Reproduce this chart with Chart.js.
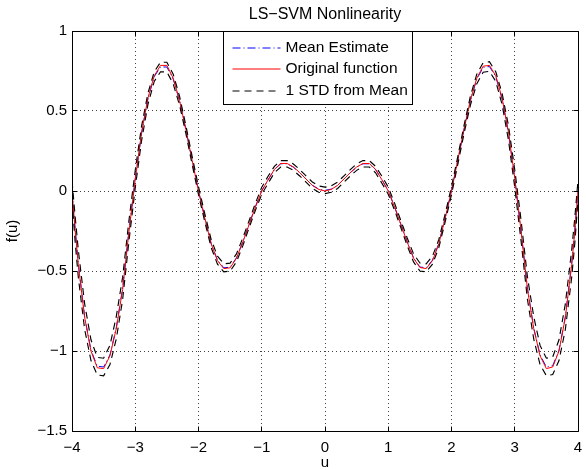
<!DOCTYPE html>
<html>
<head>
<meta charset="utf-8">
<script src="https://cdn.jsdelivr.net/npm/chart.js@4.4.0/dist/chart.umd.min.js"></script>
<style>
  body { margin: 0; background: #fff; }
  #wrap { width: 586px; height: 470px; }
</style>
</head>
<body>
<div id="wrap"><canvas id="nl-chart" width="586" height="470"></canvas></div>
<script>
// values
const uVals = [
  -4, -3.95, -3.9, -3.8, -3.7, -3.6, -3.5, -3.4, -3.3, -3.2,
  -3.1, -3, -2.9, -2.8, -2.7, -2.6, -2.5, -2.4, -2.3, -2.2,
  -2.1, -2, -1.9, -1.8, -1.7, -1.6, -1.5, -1.4, -1.3, -1.2,
  -1.1, -1, -0.9, -0.8, -0.7, -0.6, -0.5, -0.4, -0.3, -0.2,
  -0.1, 0, 0.1, 0.2, 0.3, 0.4, 0.5, 0.6, 0.7, 0.8,
  0.9, 1, 1.1, 1.2, 1.3, 1.4, 1.5, 1.6, 1.7, 1.8,
  1.9, 2, 2.1, 2.2, 2.3, 2.4, 2.5, 2.6, 2.7, 2.8,
  2.9, 3, 3.1, 3.2, 3.3, 3.4, 3.5, 3.6, 3.7, 3.8,
  3.9, 3.95, 4
];

const originalFn = [
  0.000, -0.245, -0.460, -0.790, -1.000, -1.105, -1.110, -1.030, -0.860, -0.615,
  -0.255, 0.075, 0.365, 0.580, 0.720, 0.785, 0.785, 0.705, 0.565, 0.385,
  0.190, 0.000, -0.170, -0.330, -0.435, -0.485, -0.480, -0.420, -0.320, -0.210,
  -0.100, 0.000, 0.070, 0.135, 0.172, 0.172, 0.150, 0.115, 0.075, 0.035,
  0.010, 0.000, 0.010, 0.035, 0.075, 0.115, 0.150, 0.172, 0.172, 0.135,
  0.070, 0.000, -0.100, -0.210, -0.320, -0.420, -0.478, -0.485, -0.435, -0.330,
  -0.170, 0.000, 0.195, 0.390, 0.570, 0.705, 0.780, 0.785, 0.720, 0.580,
  0.370, 0.080, -0.250, -0.610, -0.860, -1.030, -1.110, -1.100, -1.000, -0.790,
  -0.460, -0.250, 0.000
];

const meanEst = [
  0.005, -0.240, -0.455, -0.785, -0.995, -1.095, -1.100, -1.025, -0.855, -0.610,
  -0.250, 0.075, 0.360, 0.575, 0.715, 0.775, 0.775, 0.700, 0.565, 0.385,
  0.190, 0.002, -0.168, -0.328, -0.432, -0.480, -0.476, -0.418, -0.318, -0.208,
  -0.098, 0.002, 0.070, 0.134, 0.170, 0.170, 0.149, 0.114, 0.075, 0.036,
  0.012, 0.004, 0.012, 0.036, 0.075, 0.114, 0.149, 0.170, 0.170, 0.134,
  0.070, 0.002, -0.098, -0.208, -0.318, -0.418, -0.475, -0.480, -0.432, -0.328,
  -0.168, 0.002, 0.192, 0.388, 0.567, 0.700, 0.772, 0.778, 0.715, 0.575,
  0.365, 0.078, -0.248, -0.605, -0.855, -1.025, -1.100, -1.092, -0.995, -0.785,
  -0.455, -0.245, 0.005
];

const stdDev = [
  0.060, 0.080, 0.085, 0.080, 0.065, 0.055, 0.055, 0.060, 0.070, 0.070,
  0.065, 0.055, 0.045, 0.035, 0.030, 0.030, 0.030, 0.030, 0.028, 0.025,
  0.025, 0.025, 0.025, 0.025, 0.025, 0.025, 0.025, 0.025, 0.024, 0.022,
  0.022, 0.022, 0.022, 0.020, 0.020, 0.020, 0.020, 0.020, 0.020, 0.020,
  0.020, 0.020, 0.020, 0.020, 0.020, 0.020, 0.020, 0.020, 0.020, 0.020,
  0.022, 0.022, 0.022, 0.022, 0.024, 0.025, 0.025, 0.025, 0.025, 0.025,
  0.025, 0.025, 0.025, 0.025, 0.028, 0.030, 0.030, 0.030, 0.030, 0.035,
  0.045, 0.055, 0.065, 0.070, 0.070, 0.060, 0.055, 0.055, 0.065, 0.080,
  0.085, 0.080, 0.060
];

const xTicks = [-4, -3, -2, -1, 0, 1, 2, 3, 4];
const yTicks = [-1.5, -1, -0.5, 0, 0.5, 1];
const seriesNames = ["Mean Estimate", "Original function", "1 STD from Mean"];
const chartTitle = "LS\u2212SVM Nonlinearity";

const FONT = "'Liberation Sans', Arial, Helvetica, sans-serif";
const fmt = v => String(v).replace('-', '\u2212');
const pts = ys => uVals.map((u, i) => ({ x: u, y: ys[i] }));

const upperStd = meanEst.map((m, i) => m + stdDev[i]);
const lowerStd = meanEst.map((m, i) => m - stdDev[i]);

const dashDot = [8, 3, 1, 3];
const dashed = [7, 5];

function align(px) {
  return Math.round(px - 0.5) + 0.5;
}

// axes box with inward ticks, title and legend (MATLAB style)
const matlabFrame = {
  id: 'matlabFrame',
  afterDatasetsDraw(chart) {
    const { ctx, chartArea: a, scales: { x, y } } = chart;
    const L = align(a.left), R = align(a.right), T = align(a.top), B = align(a.bottom);
    ctx.save();
    ctx.strokeStyle = '#000';
    ctx.lineWidth = 1;
    ctx.setLineDash([]);
    ctx.beginPath();
    ctx.rect(L, T, R - L, B - T);
    xTicks.forEach(v => {
      const px = align(x.getPixelForValue(v));
      ctx.moveTo(px, B); ctx.lineTo(px, B - 5);
      ctx.moveTo(px, T); ctx.lineTo(px, T + 5);
    });
    yTicks.forEach(v => {
      const py = align(y.getPixelForValue(v));
      ctx.moveTo(L, py); ctx.lineTo(L + 5, py);
      ctx.moveTo(R, py); ctx.lineTo(R - 5, py);
    });
    ctx.stroke();

    // legend box
    const bx = align(a.left + 151), by = T, bw = 189, bh = 73;
    ctx.fillStyle = '#fff';
    ctx.fillRect(bx, by, bw, bh);
    ctx.strokeRect(bx, by, bw, bh);
    const styles = [
      { color: '#0000ff', dash: dashDot },
      { color: '#ff0000', dash: [] },
      { color: '#000000', dash: dashed }
    ];
    const rows = [by + 16, by + 37, by + 59];
    ctx.font = '15.5px ' + FONT;
    ctx.textBaseline = 'middle';
    ctx.textAlign = 'left';
    seriesNames.forEach((name, i) => {
      ctx.beginPath();
      ctx.strokeStyle = styles[i].color;
      ctx.setLineDash(styles[i].dash);
      ctx.moveTo(bx + 9, rows[i] + 0.5);
      ctx.lineTo(bx + 57, rows[i] + 0.5);
      ctx.stroke();
      ctx.setLineDash([]);
      ctx.fillStyle = '#000';
      ctx.fillText(name, bx + 62, rows[i]);
    });

    // title centred over the axes
    ctx.font = '16px ' + FONT;
    ctx.textAlign = 'center';
    ctx.fillText(chartTitle, (a.left + a.right) / 2, 15);
    ctx.restore();
  }
};

const lineStyle = (label, data, color, dash, order, width) => ({
  label: label,
  data: pts(data),
  borderColor: color,
  backgroundColor: color,
  borderWidth: width,
  borderDash: dash,
  pointRadius: 0,
  fill: false,
  tension: 0,
  order: order
});

new Chart(document.getElementById('nl-chart'), {
  type: 'line',
  data: {
    datasets: [
      lineStyle(seriesNames[0], meanEst, '#0000ff', dashDot, 2, 1),
      lineStyle(seriesNames[1], originalFn, '#ff0000', [], 1, 1),
      lineStyle(seriesNames[2], upperStd, '#000000', dashed, 0, 1.15),
      lineStyle(seriesNames[2], lowerStd, '#000000', dashed, 0, 1.15)
    ]
  },
  options: {
    responsive: false,
    animation: false,
    devicePixelRatio: 1,
    layout: { padding: { top: 31, right: 8, left: 0, bottom: 0 } },
    plugins: {
      legend: { display: false },
      title: { display: false },
      tooltip: { enabled: false }
    },
    scales: {
      x: {
        type: 'linear',
        min: -4,
        max: 4,
        afterBuildTicks: s => { s.ticks = xTicks.map(v => ({ value: v })); },
        afterFit: s => { s.height = 39; s.paddingLeft = 0; s.paddingRight = 0; },
        grid: { color: 'rgba(0,0,0,0.75)', drawTicks: false, borderDash: [1, 3] },
        border: { display: false, dash: [1, 3] },
        ticks: {
          autoSkip: false, maxRotation: 0, padding: 8, color: '#000',
          font: { family: FONT, size: 15 },
          callback: v => fmt(v)
        },
        title: { display: true, text: 'u', color: '#000', font: { family: FONT, size: 15, lineHeight: 1 }, padding: { top: 0, bottom: 0 } }
      },
      y: {
        type: 'linear',
        min: -1.5,
        max: 1,
        afterBuildTicks: s => { s.ticks = yTicks.map(v => ({ value: v })); },
        afterFit: s => { s.width = 72; },
        grid: { color: 'rgba(0,0,0,0.75)', drawTicks: false, borderDash: [1, 3] },
        border: { display: false, dash: [1, 3] },
        ticks: {
          padding: 5, color: '#000',
          font: { family: FONT, size: 15 },
          callback: v => fmt(v)
        },
        title: { display: true, text: 'f(u)', color: '#000', font: { family: FONT, size: 15 }, padding: { top: 4, bottom: 0 } }
      }
    }
  },
  plugins: [matlabFrame]
});
</script>
</body>
</html>
